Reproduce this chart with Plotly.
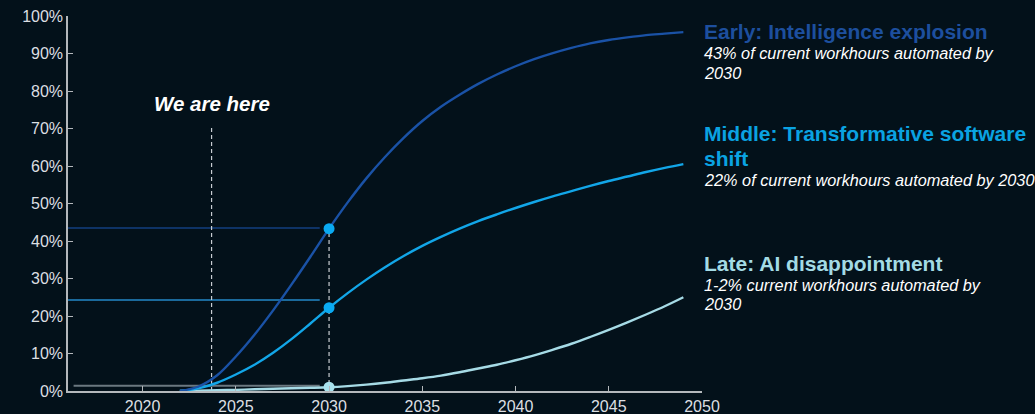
import plotly.graph_objects as go

years = list(range(2022, 2050))
early = [0, 1.2, 4.2, 9.2, 15.0, 21.5, 28.5, 35.8, 43.3, 50.3, 56.7, 62.4, 67.5, 72.0,
         75.8, 79.0, 81.9, 84.4, 86.6, 88.5, 90.1, 91.5, 92.7, 93.6, 94.3, 94.9, 95.3, 95.7]
middle = [0, 0.7, 2.2, 4.4, 7.0, 10.2, 13.9, 18.0, 22.2, 26.1, 29.7, 33.0, 36.0, 38.7,
          41.1, 43.3, 45.3, 47.1, 48.8, 50.4, 51.9, 53.3, 54.7, 56.0, 57.2, 58.4, 59.5, 60.5]
late = [0, 0.1, 0.2, 0.3, 0.45, 0.6, 0.75, 0.85, 1.0, 1.3, 1.7, 2.2, 2.8, 3.4,
        4.1, 5.0, 6.0, 7.0, 8.2, 9.5, 11.0, 12.6, 14.4, 16.3, 18.3, 20.4, 22.6, 25.0]

marker_year = 2030
marker_vals = [43.3, 22.2, 1.0]
ref_levels = [43.5, 24.3, 1.4]
ref_start = [2016, 2016, 2016.3]
ref_end = 2029.5
now_year = 2023.7
now_top = 70.5

x_ticks = [2020, 2025, 2030, 2035, 2040, 2045, 2050]
y_ticks = [0, 10, 20, 30, 40, 50, 60, 70, 80, 90, 100]
y_labels = [f"{v}%" for v in y_ticks]

BG = "#03111a"
C_EARLY = "#1a52a6"
C_MID = "#12a6e8"
C_LATE = "#a6dbe6"
C_EARLY_T = "#1d4f9e"
C_MID_T = "#0aa3e2"
C_LATE_T = "#a3dbe5"
ref_colors = ["#0e3366", "#1b6a9c", "#6b7880"]
marker_colors = ["#0aaaf2", "#0aaaf2", "#a8e2ee"]

fig = go.Figure()

for lvl, xs, col in zip(ref_levels, ref_start, ref_colors):
    fig.add_trace(go.Scatter(x=[xs, ref_end], y=[lvl, lvl], mode="lines",
                             line=dict(color=col, width=2), hoverinfo="skip",
                             showlegend=False))

fig.add_trace(go.Scatter(x=[now_year, now_year], y=[0, now_top], mode="lines",
                         line=dict(color="#c8cdd2", width=1.2, dash="4px,3px"),
                         hoverinfo="skip", showlegend=False))
fig.add_trace(go.Scatter(x=[marker_year, marker_year], y=[0, marker_vals[0]], mode="lines",
                         line=dict(color="#c8cdd2", width=1.2, dash="4px,3px"),
                         hoverinfo="skip", showlegend=False))

for vals, col in [(late, C_LATE), (middle, C_MID), (early, C_EARLY)]:
    fig.add_trace(go.Scatter(x=years, y=vals, mode="lines",
                             line=dict(color=col, width=2.4, shape="spline", smoothing=1.0),
                             showlegend=False, cliponaxis=False))

fig.add_trace(go.Scatter(x=[marker_year] * 3, y=marker_vals, mode="markers",
                         marker=dict(color=marker_colors, size=11, line=dict(width=0)),
                         showlegend=False, cliponaxis=False))

axis_col = "#b4b8bc"
tick_font = dict(family="Liberation Sans, Arial", size=16, color="#dcdfe2")
fig.update_xaxes(range=[2016, 2050], tickmode="array", tickvals=x_ticks,
                 ticktext=[str(v) for v in x_ticks], showgrid=False, zeroline=False,
                 showline=True, linecolor=axis_col, linewidth=1.5, ticks="inside",
                 ticklen=5, tickcolor=axis_col, tickwidth=1, tickfont=tick_font,
                 automargin=False)
fig.update_yaxes(range=[0, 100], tickmode="array", tickvals=y_ticks, ticktext=y_labels,
                 showgrid=False, zeroline=False, showline=True, linecolor=axis_col,
                 linewidth=1.5, ticks="inside", ticklen=5, tickcolor=axis_col,
                 tickwidth=1, tickfont=tick_font, automargin=False)

L, R, T, B = 68, 333, 16, 23
W, H = 1035, 414
pw, ph = W - L - R, H - T - B


def px_y(y):
    return (H - B - y) / ph


def px_x(x):
    return (x - L) / pw


ann = []
ann.append(dict(x=now_year, y=px_y(103), xref="x", yref="paper",
                text="<b><i>We are here</i></b>", showarrow=False,
                font=dict(family="Liberation Sans, Arial", size=20.5, color="#ffffff"),
                xanchor="center", yanchor="middle"))

tx = px_x(702)
TS, SS = 21, 16.3
blocks = [
    (32, "<b>Early: Intelligence explosion</b>", TS, C_EARLY_T),
    (53, "<i>43% of current workhours automated by</i>", SS, "#ffffff"),
    (73, "<i>2030</i>", SS, "#ffffff"),
    (133, "<b>Middle: Transformative software</b>", TS, C_MID_T),
    (158, "<b>shift</b>", TS, C_MID_T),
    (180, "<i>22% of current workhours automated by 2030</i>", SS, "#ffffff"),
    (263, "<b>Late: AI disappointment</b>", TS, C_LATE_T),
    (285, "<i>1-2% current workhours automated by</i>", SS, "#ffffff"),
    (304, "<i>2030</i>", SS, "#ffffff"),
]
for ypx, txt, sz, col in blocks:
    ann.append(dict(x=tx, y=px_y(ypx), xref="paper", yref="paper", text=txt,
                    showarrow=False, xanchor="left", yanchor="middle",
                    font=dict(family="Liberation Sans, Arial", size=sz, color=col)))

fig.update_layout(width=W, height=H, autosize=False,
                  margin=dict(l=L, r=R, t=T, b=B),
                  paper_bgcolor=BG, plot_bgcolor=BG, annotations=ann,
                  showlegend=False)

fig.write_html("out.html",
               config={"displayModeBar": False, "responsive": False},
               default_width=f"{W}px", default_height=f"{H}px",
               post_script="document.body.style.margin='0';"
                           "document.body.style.overflow='hidden';"
                           "document.body.style.background='#03111a';")
